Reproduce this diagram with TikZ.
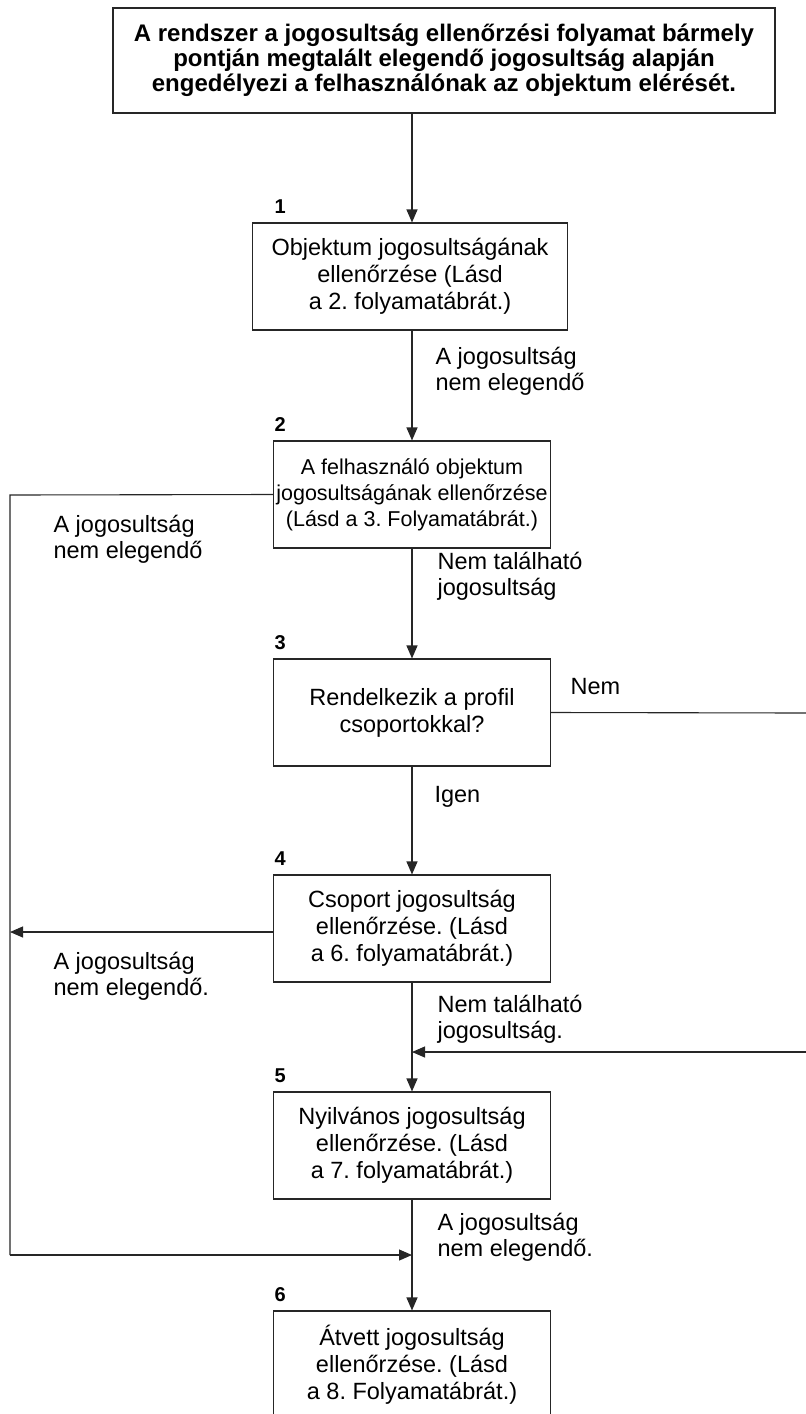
\documentclass[tikz,border=0pt]{standalone}
\usepackage{fontspec}
\setmainfont{Liberation Sans}
\usetikzlibrary{arrows.meta}
\frenchspacing
\begin{document}
\begin{tikzpicture}[x=1pt,y=-1pt,
  line width=1.1pt,
  stepbox/.style={draw=black!85, minimum width=277pt, minimum height=107pt,
    inner sep=0pt, align=center, font=\fontsize{23.5}{27}\selectfont},
  num/.style={anchor=base west, inner sep=0pt, font=\bfseries\fontsize{20}{24}\selectfont},
  lbl/.style={anchor=base west, inner sep=0pt, align=left, font=\fontsize{23.5}{25.5}\selectfont},
  arr/.style={draw=black!85, -{Triangle[length=13pt,width=11pt]}},
  ln/.style={draw=black!85}
]
\useasboundingbox (0,0) rectangle (806,1414);

% heading box
\node[stepbox, minimum width=662pt, minimum height=105pt,
      font=\bfseries\fontsize{24}{25}\selectfont] (top) at (444,60.5)
  {A rendszer a jogosultság ellenőrzési folyamat bármely\\
   pontján megtalált elegendő jogosultság alapján\\
   engedélyezi a felhasználónak az objektum elérését.};

% numbered steps
\node[stepbox, minimum width=315pt] (b1) at (410,276.5)
  {Objektum jogosultságának\\ellenőrzése (Lásd\\a 2. folyamatábrát.)};
\node[stepbox, font=\fontsize{21.5}{26}\selectfont] (b2) at (412,494.5)
  {A felhasználó objektum\\jogosultságának ellenőrzése\\(Lásd a 3. Folyamatábrát.)};
\node[stepbox] (b3) at (412,712.5)
  {Rendelkezik a profil\\csoportokkal?};
\node[stepbox] (b4) at (412,928.5)
  {Csoport jogosultság\\ellenőrzése. (Lásd\\a 6. folyamatábrát.)};
\node[stepbox] (b5) at (412,1145.5)
  {Nyilvános jogosultság\\ellenőrzése. (Lásd\\a 7. folyamatábrát.)};
\node[stepbox] (b6) at (412,1364.5)
  {Átvett jogosultság\\ellenőrzése. (Lásd\\a 8. Folyamatábrát.)};

% step numbers
\node[num] (n1) at (274,213) {1};
\node[num] (n2) at (274,431) {2};
\node[num] (n3) at (274,649) {3};
\node[num] (n4) at (274,865) {4};
\node[num] (n5) at (274,1082) {5};
\node[num] (n6) at (274,1301) {6};

% auxiliary points of the side routes
\coordinate (lt) at (10,495);
\coordinate (l4) at (10,932);
\coordinate (lbot) at (10,1255);
\coordinate (j56) at (412,1255);
\coordinate (r3) at (806,713);
\coordinate (r5) at (806,1052);
\coordinate (j45) at (412,1052);

% main flow
\draw[arr] (top.south -| b2.north) -- (b1.north -| b2.north);
\draw[arr] (b1.south -| b2.north) -- (b2.north);
\draw[arr] (b2) -- (b3);
\draw[arr] (b3) -- (b4);
\draw[arr] (b4) -- (b5);
\draw[arr] (b5) -- (b6);

% side routes
\draw[ln] (b2.west) -- (lt) -- (lbot);
\draw[arr] (lbot) -- (j56);
\draw[arr] (b4.west |- l4) -- (l4);
\draw[ln] (b3.east) -- (r3);
\draw[arr] (r5) -- (j45);

% connector labels (base = baseline of the last line)
\node[lbl] (t1) at (435,390) {A jogosultság\\nem elegendő};
\node[lbl] (t2) at (53,558) {A jogosultság\\nem elegendő};
\node[lbl] (t3) at (437,595) {Nem található\\jogosultság};
\node[lbl] (t4) at (570,694) {Nem};
\node[lbl] (t5) at (434,802) {Igen};
\node[lbl] (t6) at (53,995) {A jogosultság\\nem elegendő.};
\node[lbl] (t7) at (437,1038) {Nem található\\jogosultság.};
\node[lbl] (t8) at (437,1256) {A jogosultság\\nem elegendő.};
\end{tikzpicture}
\end{document}
